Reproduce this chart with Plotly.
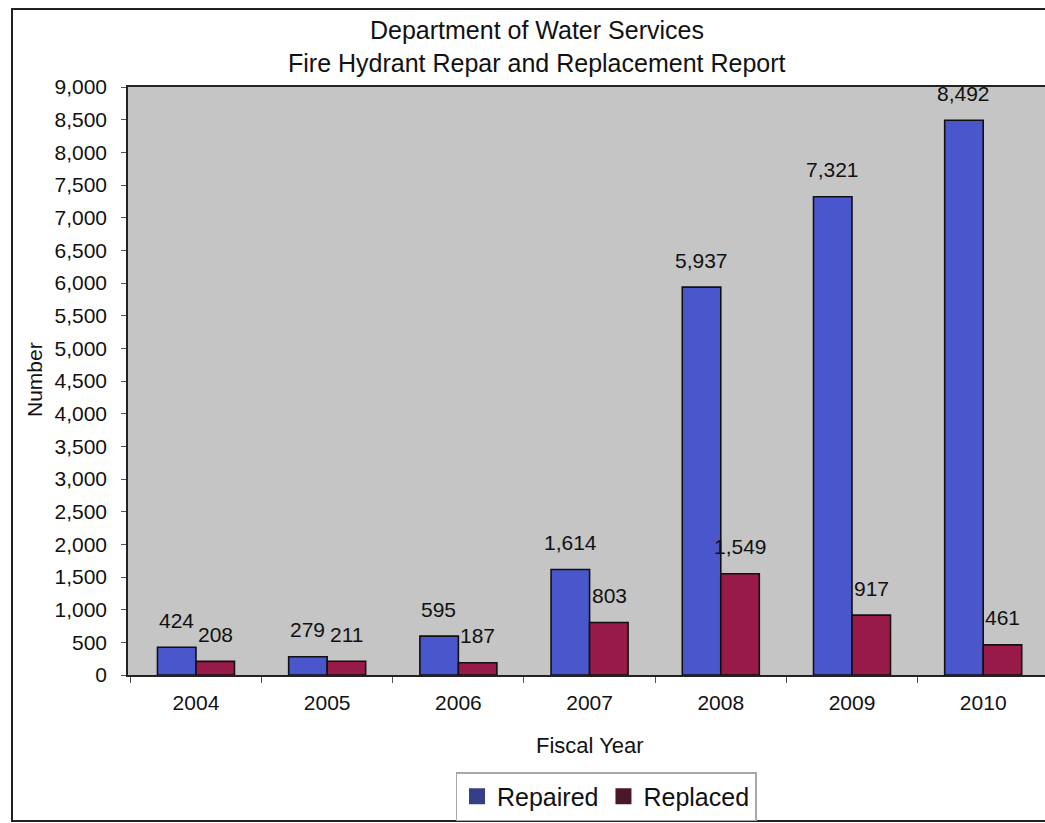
import plotly.graph_objects as go

# Fire hydrant work by fiscal year
years = ["2004", "2005", "2006", "2007", "2008", "2009", "2010"]
repaired = [424, 279, 595, 1614, 5937, 7321, 8492]
replaced = [208, 211, 187, 803, 1549, 917, 461]

FONT = "Liberation Sans, Arial, sans-serif"
W, H = 1045, 823

# plot-area pixel frame
PL, PT, PB = 128, 87, 675

BLUE_BAR = "#4a57cc"
RED_BAR = "#981a48"
BLUE_KEY = "#343f88"
RED_KEY = "#4c1629"

fig = go.Figure()

fig.add_trace(go.Bar(
    x=years, y=repaired, name="Repaired", showlegend=False,
    marker=dict(color=BLUE_BAR, line=dict(color="#111111", width=1.6)),
))
fig.add_trace(go.Bar(
    x=years, y=replaced, name="Replaced", showlegend=False,
    marker=dict(color=RED_BAR, line=dict(color="#111111", width=1.6)),
))

# legend keys drawn as square swatches
fig.add_trace(go.Scatter(
    x=[None], y=[None], mode="markers", name="Repaired",
    marker=dict(symbol="square", size=16, color=BLUE_KEY),
))
fig.add_trace(go.Scatter(
    x=[None], y=[None], mode="markers", name="Replaced",
    marker=dict(symbol="square", size=16, color=RED_KEY),
))

annotations = []
# value labels above each bar (x given as category index)
half = 19.5
for i, v in enumerate(repaired):
    annotations.append(dict(
        x=i, y=v, xref="x", yref="y", text=f"{v:,}", showarrow=False,
        xshift=-half, yshift=27, yanchor="middle",
        font=dict(family=FONT, size=21, color="#111111"),
    ))
for i, v in enumerate(replaced):
    annotations.append(dict(
        x=i, y=v, xref="x", yref="y", text=f"{v:,}", showarrow=False,
        xshift=half, yshift=27, yanchor="middle",
        font=dict(family=FONT, size=21, color="#111111"),
    ))

# chart title (two lines)
annotations.append(dict(
    x=537 / W, y=1 - 30 / H, xref="paper", yref="paper", showarrow=False,
    text="Department of Water Services", yanchor="middle",
    font=dict(family=FONT, size=25, color="#111111"),
))
annotations.append(dict(
    x=537 / W, y=1 - 63 / H, xref="paper", yref="paper", showarrow=False,
    text="Fire Hydrant Repar and Replacement Report", yanchor="middle",
    font=dict(family=FONT, size=25, color="#111111"),
))
# axis titles
annotations.append(dict(
    x=35 / W, y=1 - 380 / H, xref="paper", yref="paper", showarrow=False,
    text="Number", textangle=-90, xanchor="center", yanchor="middle",
    font=dict(family=FONT, size=21, color="#111111"),
))
annotations.append(dict(
    x=590 / W, y=1 - 745 / H, xref="paper", yref="paper", showarrow=False,
    text="Fiscal Year", xanchor="center", yanchor="middle",
    font=dict(family=FONT, size=22, color="#111111"),
))

fig.update_layout(
    width=W, height=H,
    margin=dict(l=0, r=0, t=0, b=0, autoexpand=False),
    paper_bgcolor="white",
    plot_bgcolor="#c5c5c5",
    barmode="group",
    bargap=0.413,
    bargroupgap=0,
    font=dict(family=FONT, size=21, color="#111111"),
    annotations=annotations,
    legend=dict(
        orientation="h", xref="container", yref="container",
        x=606 / W, xanchor="center", y=1 - 772 / H, yanchor="top",
        bordercolor="#a8a8a8", borderwidth=1.5, bgcolor="white",
        font=dict(family=FONT, size=25, color="#111111"),
    ),
    shapes=[
        # outer chart frame
        dict(type="rect", xref="paper", yref="paper",
             x0=12 / W, x1=1.05, y0=1 - 821 / H, y1=1 - 9 / H,
             line=dict(color="#222222", width=2), fillcolor="rgba(0,0,0,0)",
             layer="below"),
    ],
    xaxis=dict(
        domain=[PL / W, 1.0],
        type="category",
        range=[-0.518, 6.471],
        automargin=False,
        showline=True, linecolor="#222222", linewidth=1.5, mirror=True,
        ticks="outside", tickson="boundaries", ticklen=6, tickcolor="#555555",
        tickfont=dict(family=FONT, size=21, color="#111111"),
        ticklabelstandoff=8,
        showgrid=False, zeroline=False,
    ),
    yaxis=dict(
        domain=[1 - PB / H, 1 - PT / H],
        range=[0, 9000], dtick=500, tickformat=",",
        automargin=False,
        showline=True, linecolor="#222222", linewidth=1.5,
        ticks="outside", ticklen=5, tickcolor="#555555",
        tickfont=dict(family=FONT, size=21, color="#111111"),
        ticklabelstandoff=10,
        showgrid=False, zeroline=False,
    ),
)

fig.write_html("out.html")
